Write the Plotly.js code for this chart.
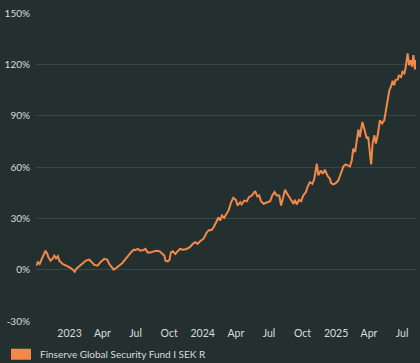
<!DOCTYPE html>
<html>
<head>
<meta charset="utf-8">
<script src="https://cdn.plot.ly/plotly-3.0.1.min.js"></script>
<style>
html,body{margin:0;padding:0;background:#243030;}
#chart{width:420px;height:363px;}
</style>
</head>
<body>
<div id="chart"></div>
<script>
const seriesName = "Finserve Global Security Fund I SEK R";

const dates = [
"2022-10-02","2022-10-06","2022-10-11","2022-10-15","2022-10-22","2022-10-27","2022-11-01","2022-11-04","2022-11-10","2022-11-16",
"2022-11-20","2022-11-25","2022-11-30","2022-12-04","2022-12-13","2022-12-23","2023-01-01","2023-01-10","2023-01-15","2023-01-19",
"2023-01-28","2023-02-06","2023-02-15","2023-02-24","2023-03-03","2023-03-10","2023-03-19","2023-03-28","2023-04-06","2023-04-14",
"2023-04-20","2023-04-26","2023-05-02","2023-05-08","2023-05-17","2023-05-26","2023-06-04","2023-06-14","2023-06-20","2023-06-26",
"2023-06-30","2023-07-07","2023-07-14","2023-07-23","2023-07-28","2023-08-03","2023-08-11","2023-08-20","2023-08-29","2023-09-05",
"2023-09-12","2023-09-18","2023-09-21","2023-09-27","2023-10-02","2023-10-06","2023-10-11","2023-10-18","2023-10-24","2023-10-31",
"2023-11-09","2023-11-18","2023-11-27","2023-12-05","2023-12-12","2023-12-18","2023-12-25","2024-01-03","2024-01-11","2024-01-17",
"2024-01-26","2024-01-31","2024-02-07","2024-02-13","2024-02-18","2024-02-23","2024-02-29","2024-03-03","2024-03-07","2024-03-12",
"2024-03-19","2024-03-25","2024-04-01","2024-04-06","2024-04-13","2024-04-17","2024-04-24","2024-05-01","2024-05-07","2024-05-15",
"2024-05-24","2024-05-30","2024-06-04","2024-06-09","2024-06-16","2024-06-25","2024-07-04","2024-07-10","2024-07-16","2024-07-22",
"2024-07-29","2024-08-03","2024-08-09","2024-08-14","2024-08-19","2024-08-25","2024-08-30","2024-09-06","2024-09-10","2024-09-15",
"2024-09-21","2024-09-27","2024-10-03","2024-10-10","2024-10-15","2024-10-21","2024-10-28","2024-11-02","2024-11-09","2024-11-13",
"2024-11-20","2024-11-25","2024-12-01","2024-12-09","2024-12-15","2024-12-18","2024-12-24","2024-12-31","2025-01-07","2025-01-14",
"2025-01-21","2025-01-27","2025-02-02","2025-02-08","2025-02-13","2025-02-17","2025-02-22","2025-02-26","2025-03-03","2025-03-07",
"2025-03-14","2025-03-19","2025-03-26","2025-03-30","2025-04-04","2025-04-07","2025-04-11","2025-04-16","2025-04-20","2025-04-25",
"2025-05-01","2025-05-07","2025-05-13","2025-05-17","2025-05-22","2025-05-27","2025-05-31","2025-06-05","2025-06-09","2025-06-13",
"2025-06-19","2025-06-22","2025-06-28","2025-07-02","2025-07-07","2025-07-11","2025-07-16","2025-07-20","2025-07-25","2025-07-28",
"2025-08-01","2025-08-05","2025-08-08"
];

const returnsPct = [
2.3,4.3,3.3,5.3,9.2,11.1,9.2,7.2,5.3,6.6,
8.2,6.6,7.8,5.3,3.3,2.3,1.4,0.0,-1.2,0.4,
1.9,3.3,5.3,5.9,4.3,2.8,2.3,4.7,6.3,5.9,
3.3,1.4,0.0,0.8,2.3,3.9,6.3,9.2,10.5,11.7,
11.4,12.1,11.1,11.5,12.1,10.1,10.1,10.7,11.1,10.7,
9.6,8.2,5.3,4.9,5.7,10.1,10.7,9.2,10.7,12.1,
11.7,12.1,13.1,15.1,16.0,15.1,16.6,18.0,21.3,22.9,
23.3,24.8,27.7,30.6,28.7,31.6,30.3,31.6,32.6,34.6,
39.4,42.0,40.8,37.5,39.4,38.1,40.4,40.0,42.4,43.4,
45.9,42.8,43.4,40.0,38.5,39.4,40.0,43.4,45.3,43.4,
43.4,37.5,43.4,46.7,44.7,42.4,40.4,38.5,40.8,38.1,
40.8,40.0,43.4,45.3,48.6,51.1,50.2,53.1,61.9,55.1,
58.0,56.1,58.4,54.6,53.1,50.6,49.8,50.6,52.1,56.4,
60.4,61.5,60.9,60.4,63.9,70.7,68.7,75.6,81.9,77.5,
86.3,82.4,76.6,77.5,67.8,61.5,73.7,78.5,73.7,78.5,
87.3,85.4,87.3,93.2,98.0,104.9,106.8,110.4,107.8,110.8,
111.2,113.7,112.3,115.6,114.7,118.6,126.4,119.5,122.5,118.6,
125.4,117.0,122.5
];

const xTickVals = ["2023-01-01","2023-04-01","2023-07-01","2023-10-01","2024-01-01","2024-04-01","2024-07-01","2024-10-01","2025-01-01","2025-04-01","2025-07-01"];
const xTickText = ["2023","Apr","Jul","Oct","2024","Apr","Jul","Oct","2025","Apr","Jul"];
const yTickVals = [-30,0,30,60,90,120,150];
const yTickText = ["-30%","0%","30%","60%","90%","120%","150%"];
const xRange = ["2022-10-01","2025-08-08"];
const yRange = [-30,150];

const BG = "#243030";
const GRID = "#3a4747";
const AXIS = "#556262";
const TEXT = "#d8dcdc";
const ORANGE = "#f2894b";

const traces = [
  {
    type: "scatter", mode: "lines", x: dates, y: returnsPct,
    line: {color: ORANGE, width: 2}, showlegend: false, hoverinfo: "skip"
  },
  {
    type: "bar", x: [dates[0]], y: [0], name: seriesName,
    marker: {color: ORANGE, line: {width: 0}}, showlegend: true, hoverinfo: "skip"
  }
];

const layout = {
  width: 420, height: 363,
  paper_bgcolor: BG, plot_bgcolor: BG,
  margin: {l: 36, r: 4, t: 13, b: 42, autoexpand: false},
  font: {family: "Lato, 'Open Sans', sans-serif", size: 10, color: TEXT},
  showlegend: true,
  legend: {
    orientation: "h", xref: "container", yref: "container",
    x: -0.005, xanchor: "left", y: 0.064, yanchor: "top",
    bgcolor: "rgba(0,0,0,0)", font: {size: 10, color: TEXT}, itemwidth: 30
  },
  xaxis: {
    type: "date", range: xRange, tickmode: "array", tickvals: xTickVals, ticktext: xTickText,
    showgrid: false, zeroline: false, showline: false, ticks: "", ticklabelstandoff: 4,
    tickfont: {size: 10.5, color: TEXT}, fixedrange: true
  },
  xaxis2: {
    type: "date", overlaying: "x", matches: "x", anchor: "free",
    position: (0 - yRange[0]) / (yRange[1] - yRange[0]), side: "bottom",
    tickmode: "array", tickvals: xTickVals, showticklabels: false,
    showgrid: false, zeroline: false, showline: true, linecolor: AXIS, linewidth: 1.5,
    ticks: "outside", ticklen: 4, tickcolor: AXIS, tickwidth: 1
  },
  yaxis: {
    range: yRange, tickmode: "array", tickvals: yTickVals, ticktext: yTickText,
    showgrid: true, gridcolor: GRID, gridwidth: 1, zeroline: false, showline: false,
    ticks: "", ticklabelstandoff: 5, tickfont: {size: 10, color: TEXT}, fixedrange: true
  }
};

Plotly.newPlot("chart", traces, layout, {staticPlot: true, displayModeBar: false}).then(function(gd){
  // legend swatch as a wide rectangle like the reference
  const p = gd.querySelector(".legend .legendpoints path");
  if (p) p.setAttribute("d", "M-9,5.5H11V-5.5H-9Z");
});
</script>
</body>
</html>
